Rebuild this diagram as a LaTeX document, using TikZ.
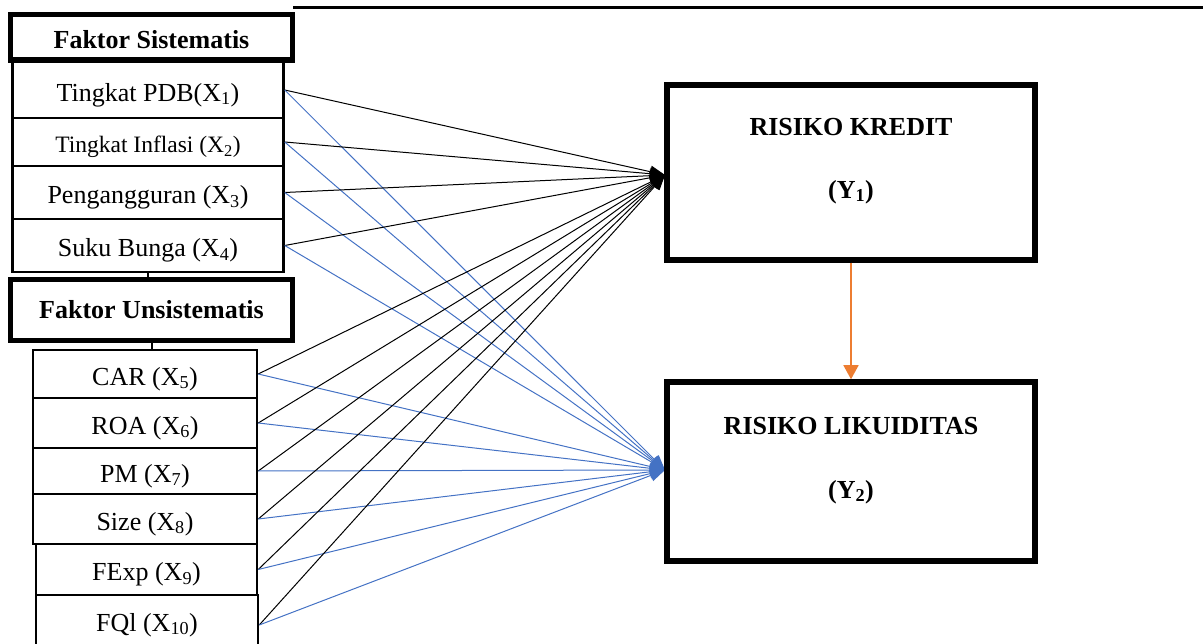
\documentclass[tikz,border=0pt]{standalone}
\usepackage{fontspec}
\setmainfont{Liberation Serif}
\usetikzlibrary{arrows.meta}
\definecolor{cblue}{HTML}{4472C4}
\definecolor{corange}{HTML}{ED7D31}
\newcommand\lowertext[2][5pt]{\raisebox{-#1}[\height][\depth]{#2}}
\tikzset{
  thinbox/.style={draw, line width=2.5pt, rectangle, inner sep=0pt, fill=white, font=\fontsize{26}{30}\selectfont},
  thickbox/.style={draw, line width=5.5pt, rectangle, inner sep=0pt, fill=white, font=\fontsize{26}{30}\selectfont\bfseries},
  toYone/.style={line width=1pt, -{Triangle[length=15pt,width=12pt]}},
  toYtwo/.style={cblue, line width=1pt, -{Triangle[length=15pt,width=12pt]}},
  lbl/.style={font=\fontsize{26}{30}\selectfont\bfseries, inner sep=0pt},
  link/.style={line width=2pt}
}
\begin{document}
\begin{tikzpicture}[x=1pt,y=-1pt]
\useasboundingbox (0,0) rectangle (1203,644);
% top rule
\coordinate (tl1) at (293,8);
\coordinate (tl2) at (1203,8);
\draw[line width=3pt] (tl1) -- (tl2);

% left boxes
\node[thickbox, minimum width=282pt, minimum height=45.5pt] (fs) at (151.5,37.25) {\lowertext[2.5pt]{Faktor Sistematis}};
\node[thinbox, minimum width=271pt, minimum height=56pt] (x1) at (148,90) {\lowertext{Tingkat PDB(X\textsubscript{1})}};
\node[thinbox, minimum width=271pt, minimum height=48pt, font=\fontsize{23.5}{27}\selectfont] (x2) at (148,142) {\lowertext{Tingkat Inflasi (X\textsubscript{2})}};
\node[thinbox, minimum width=271pt, minimum height=53pt] (x3) at (148,192.5) {\lowertext{Pengangguran (X\textsubscript{3})}};
\node[thinbox, minimum width=271pt, minimum height=53pt] (x4) at (148,245.5) {\lowertext{Suku Bunga (X\textsubscript{4})}};
\node[thickbox, minimum width=282pt, minimum height=61pt] (fu) at (151.5,310) {Faktor Unsistematis};
\node[thinbox, minimum width=224pt, minimum height=48pt] (x5) at (145,374) {\lowertext{CAR (X\textsubscript{5})}};
\node[thinbox, minimum width=224pt, minimum height=50pt] (x6) at (145,423) {\lowertext{ROA (X\textsubscript{6})}};
\node[thinbox, minimum width=224pt, minimum height=46pt] (x7) at (145,471) {\lowertext{PM (X\textsubscript{7})}};
\node[thinbox, minimum width=224pt, minimum height=50pt] (x8) at (145,519) {\lowertext{Size (X\textsubscript{8})}};
\node[thinbox, minimum width=221pt, minimum height=51pt] (x9) at (146.5,569.5) {\lowertext{FExp (X\textsubscript{9})}};
\node[thinbox, minimum width=222pt, minimum height=60pt] (x10) at (147,625) {FQl (X\textsubscript{10})};

% small links
\draw[link] (x4.south) -- (x4.south |- fu.north);
\draw[link] (fu.south) -- (fu.south |- x5.north);

% connectors
\coordinate (ta) at (665,175);
\coordinate (tb) at (665,470);
\foreach \n in {x1,x2,x3,x4,x5,x6,x7,x8,x9,x10}{
  \draw[toYone] (\n.east) -- (ta);
  \draw[toYtwo] (\n.east) -- (tb);
}
% right boxes
\node[thickbox, minimum width=368pt, minimum height=175pt] (y1) at (851,172.5) {};
\node[thickbox, minimum width=368pt, minimum height=179pt] (y2) at (851,471.5) {};
\node[lbl] (y1a) at (851,127) {RISIKO KREDIT};
\node[lbl] (y1b) at (851,192) {(Y\textsubscript{1})};
\node[lbl] (y2a) at (851,426) {RISIKO LIKUIDITAS};
\node[lbl] (y2b) at (851,492) {(Y\textsubscript{2})};
\draw[corange, line width=1.5pt, -{Triangle[length=14pt,width=15pt]}] (y1.south) -- (y2.north);
\end{tikzpicture}
\end{document}
